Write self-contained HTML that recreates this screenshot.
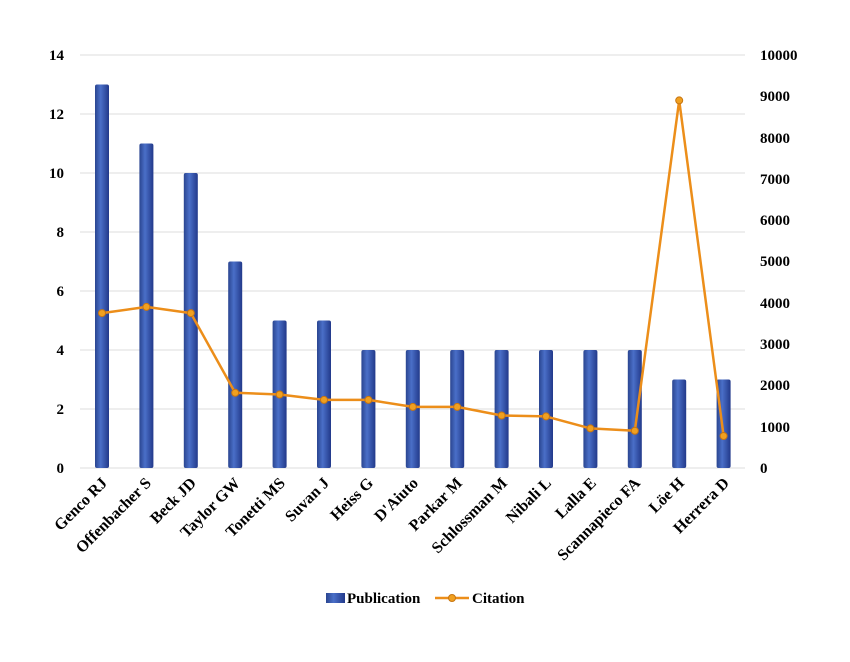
<!DOCTYPE html>
<html><head><meta charset="utf-8"><style>body{margin:0;background:#fff}</style></head>
<body>
<svg width="850" height="657" xmlns="http://www.w3.org/2000/svg" font-family="Liberation Serif, serif" font-weight="bold" font-size="15">
<defs>
<linearGradient id="b" x1="0" x2="1" y1="0" y2="0">
<stop offset="0" stop-color="#2a4590"/><stop offset="0.4" stop-color="#4a6fc8"/><stop offset="1" stop-color="#22398a"/>
</linearGradient>
</defs>
<g stroke="#dcdcdc" stroke-width="1">
<line x1="80" x2="745" y1="55" y2="55"/><line x1="80" x2="745" y1="114" y2="114"/>
<line x1="80" x2="745" y1="173" y2="173"/><line x1="80" x2="745" y1="232" y2="232"/>
<line x1="80" x2="745" y1="291" y2="291"/><line x1="80" x2="745" y1="350" y2="350"/>
<line x1="80" x2="745" y1="409" y2="409"/><line x1="80" x2="745" y1="468" y2="468"/>
</g>
<g text-anchor="end">
<text x="64" y="60">14</text><text x="64" y="119">12</text><text x="64" y="178">10</text>
<text x="64" y="237">8</text><text x="64" y="296">6</text><text x="64" y="355">4</text>
<text x="64" y="414">2</text><text x="64" y="473">0</text>
</g>
<g text-anchor="start">
<text x="760" y="60">10000</text><text x="760" y="101">9000</text><text x="760" y="143">8000</text>
<text x="760" y="184">7000</text><text x="760" y="225">6000</text><text x="760" y="266">5000</text>
<text x="760" y="308">4000</text><text x="760" y="349">3000</text><text x="760" y="390">2000</text>
<text x="760" y="432">1000</text><text x="760" y="473">0</text>
</g>
<g fill="url(#b)">
<rect x="95" y="84.5" width="14" height="383.5" rx="2"/>
<rect x="139.4" y="143.5" width="14" height="324.5" rx="2"/>
<rect x="183.8" y="173" width="14" height="295" rx="2"/>
<rect x="228.2" y="261.5" width="14" height="206.5" rx="2"/>
<rect x="272.6" y="320.5" width="14" height="147.5" rx="2"/>
<rect x="317" y="320.5" width="14" height="147.5" rx="2"/>
<rect x="361.4" y="350" width="14" height="118" rx="2"/>
<rect x="405.8" y="350" width="14" height="118" rx="2"/>
<rect x="450.2" y="350" width="14" height="118" rx="2"/>
<rect x="494.6" y="350" width="14" height="118" rx="2"/>
<rect x="539" y="350" width="14" height="118" rx="2"/>
<rect x="583.4" y="350" width="14" height="118" rx="2"/>
<rect x="627.8" y="350" width="14" height="118" rx="2"/>
<rect x="672.2" y="379.5" width="14" height="88.5" rx="2"/>
<rect x="716.6" y="379.5" width="14" height="88.5" rx="2"/>
</g>
<polyline fill="none" stroke="#ec8e1a" stroke-width="2.5" stroke-linejoin="round" points="102,313.1 146.4,306.9 190.8,313.1 235.2,392.8 279.6,394.5 324,399.9 368.4,399.9 412.8,406.9 457.2,406.9 501.6,415.5 546,416.4 590.4,428.4 634.8,430.8 679.2,100.4 723.6,436"/>
<g fill="#f0a020" stroke="#c87510" stroke-width="1">
<circle cx="102" cy="313.1" r="3.5"/><circle cx="146.4" cy="306.9" r="3.5"/><circle cx="190.8" cy="313.1" r="3.5"/>
<circle cx="235.2" cy="392.8" r="3.5"/><circle cx="279.6" cy="394.5" r="3.5"/><circle cx="324" cy="399.9" r="3.5"/>
<circle cx="368.4" cy="399.9" r="3.5"/><circle cx="412.8" cy="406.9" r="3.5"/><circle cx="457.2" cy="406.9" r="3.5"/>
<circle cx="501.6" cy="415.5" r="3.5"/><circle cx="546" cy="416.4" r="3.5"/><circle cx="590.4" cy="428.4" r="3.5"/>
<circle cx="634.8" cy="430.8" r="3.5"/><circle cx="679.2" cy="100.4" r="3.5"/><circle cx="723.6" cy="436" r="3.5"/>
</g>
<g text-anchor="end" font-size="16">
<text transform="translate(108,484) rotate(-45)">Genco RJ</text>
<text transform="translate(152,484) rotate(-45)">Offenbacher S</text>
<text transform="translate(197,484) rotate(-45)">Beck JD</text>
<text transform="translate(241,484) rotate(-45)">Taylor GW</text>
<text transform="translate(286,484) rotate(-45)">Tonetti MS</text>
<text transform="translate(330,484) rotate(-45)">Suvan J</text>
<text transform="translate(374,484) rotate(-45)">Heiss G</text>
<text transform="translate(419,484) rotate(-45)">D'Aiuto</text>
<text transform="translate(463,484) rotate(-45)">Parkar M</text>
<text transform="translate(508,484) rotate(-45)">Schlossman M</text>
<text transform="translate(552,484) rotate(-45)">Nibali L</text>
<text transform="translate(597,484) rotate(-45)">Lalla E</text>
<text transform="translate(641,484) rotate(-45)">Scannapieco FA</text>
<text transform="translate(685,484) rotate(-45)">Löe H</text>
<text transform="translate(730,484) rotate(-45)">Herrera D</text>
</g>
<rect x="326" y="593" width="19" height="10" fill="url(#b)"/>
<text x="347" y="603">Publication</text>
<line x1="435" x2="469" y1="598" y2="598" stroke="#ec8e1a" stroke-width="2.5"/>
<circle cx="452" cy="598" r="3.5" fill="#f0a020" stroke="#c87510"/>
<text x="472" y="603">Citation</text>
</svg>
</body></html>
